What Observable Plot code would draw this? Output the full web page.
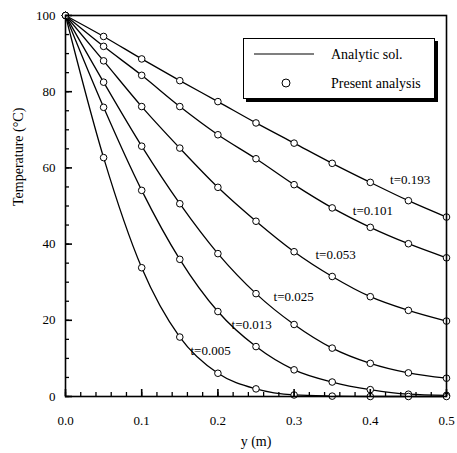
<!DOCTYPE html>
<html><head><meta charset="utf-8">
<script src="https://cdn.jsdelivr.net/npm/d3@7"></script>
<script src="https://cdn.jsdelivr.net/npm/@observablehq/plot@0.6"></script>
<style>
body{margin:0;background:#fff;}
#wrap{position:relative;width:457px;height:453px;font-family:"Liberation Serif",serif;}
#legend{position:absolute;left:243px;top:38px;width:190px;height:59px;border:1px solid #000;box-shadow:3px 3px 0 #000;background:#fff;font-size:14px;}
</style>
</head><body>
<div id="wrap"></div>
<script>
// positions along y (m)
const yPos = [0, 0.05, 0.10, 0.15, 0.20, 0.25, 0.30, 0.35, 0.40, 0.45, 0.50];
// series: temperature (°C) for each time
const times = ["t=0.193", "t=0.101", "t=0.053", "t=0.025", "t=0.013", "t=0.005"];
const T_0193 = [100, 94.5, 88.6, 82.9, 77.4, 71.8, 66.5, 61.2, 56.2, 51.4, 47.1];
const T_0101 = [100, 91.9, 84.3, 76.1, 68.7, 62.4, 55.6, 49.5, 44.4, 40.1, 36.4];
const T_0053 = [100, 88.1, 76.1, 65.2, 54.9, 46.0, 38.0, 31.5, 26.2, 22.6, 19.8];
const T_0025 = [100, 82.5, 65.7, 50.6, 37.5, 27.0, 18.9, 12.7, 8.7, 6.2, 4.8];
const T_0013 = [100, 75.9, 54.1, 36.0, 22.3, 13.1, 7.0, 3.8, 1.8, 0.6, 0.3];
const T_0005 = [100, 62.7, 33.8, 15.6, 6.1, 2.0, 0.4, 0.1, 0.0, 0.0, 0.0];
// curve label anchors (data coords)
const labelY = [0.426, 0.377, 0.328, 0.273, 0.218, 0.164];
const labelT = [57.0, 48.8, 37.3, 26.1, 18.8, 12.1];
// tick labels
const xTickVals = [0, 0.1, 0.2, 0.3, 0.4, 0.5];
const xTickLabels = ["0.0", "0.1", "0.2", "0.3", "0.4", "0.5"];
const yTickVals = [0, 20, 40, 60, 80, 100];
const xMinor = d3.range(0, 0.5001, 0.02);
const yMinor = d3.range(0, 100.001, 5);

const seriesVals = [T_0193, T_0101, T_0053, T_0025, T_0013, T_0005];
const rows = [];
seriesVals.forEach((vals, s) => vals.forEach((v, i) => rows.push({t: times[s], y: yPos[i], T: v})));
const labels = times.map((t, i) => ({t, y: labelY[i], T: labelT[i]}));

const chart = Plot.plot({
  width: 457, height: 453,
  marginLeft: 65, marginRight: 11, marginTop: 15, marginBottom: 57,
  x: {domain: [0, 0.5]},
  y: {domain: [0, 100]},
  style: {fontFamily: "Liberation Serif, serif", fontSize: "13px", color: "#000", background: "#fff"},
  marks: [
    Plot.line(rows, {x: "y", y: "T", z: "t", curve: "monotone-x", stroke: "#000", strokeWidth: 1.3}),
    Plot.dot(rows, {x: "y", y: "T", r: 3.3, stroke: "#000", fill: "#fff", strokeWidth: 1}),
    Plot.text(labels, {x: "y", y: "T", text: "t", textAnchor: "start", fontSize: 13}),
    // inward ticks (axis ticks shifted back into the frame)
    Plot.axisX({ticks: xMinor, tickSize: 4, dy: -4, tickFormat: () => "", label: null, stroke: "#000", strokeWidth: 1.3}),
    Plot.axisX({ticks: xTickVals, tickSize: 7, dy: -7, tickFormat: () => "", label: null, stroke: "#000", strokeWidth: 1.6}),
    Plot.axisY({ticks: yMinor, tickSize: 4, dx: 4, tickFormat: () => "", label: null, stroke: "#000", strokeWidth: 1.3}),
    Plot.axisY({ticks: yTickVals, tickSize: 7, dx: 7, tickFormat: () => "", label: null, stroke: "#000", strokeWidth: 1.6}),
    Plot.frame({stroke: "#000", strokeWidth: 1.6}),
    Plot.axisX({ticks: xTickVals, tickSize: 0, tickPadding: 19, tickFormat: (d, i) => xTickLabels[i], label: null, fontSize: 13}),
    Plot.axisY({ticks: yTickVals, tickSize: 0, tickPadding: 10, label: null, fontSize: 13}),
    Plot.text(["Temperature (\u00B0C)"], {frameAnchor: "left", dx: -47, rotate: -90, fontSize: 14}),
    Plot.text(["y (m)"], {frameAnchor: "bottom", dy: 49, fontSize: 14})
  ]
});
const wrap = document.getElementById("wrap");
wrap.appendChild(chart);

const legend = document.createElement("div");
legend.id = "legend";
legend.innerHTML = `
<svg width="190" height="59" style="position:absolute;left:0;top:0;">
  <line x1="10" x2="70" y1="15" y2="15" stroke="#000" stroke-width="1.2"/>
  <circle cx="42" cy="44" r="4" fill="#fff" stroke="#000" stroke-width="1"/>
  <text x="87" y="15" dy="0.35em" font-size="14" font-family="Liberation Serif, serif">Analytic sol.</text>
  <text x="87" y="44" dy="0.35em" font-size="14" font-family="Liberation Serif, serif">Present analysis</text>
</svg>`;
wrap.appendChild(legend);
</script>
</body></html>
